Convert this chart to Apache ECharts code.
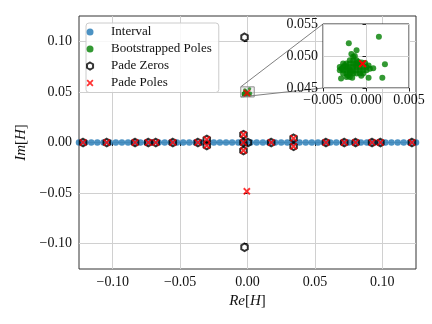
<!DOCTYPE html>
<html>
<head>
<meta charset="utf-8">
<script src="https://cdn.jsdelivr.net/npm/echarts@6/dist/echarts.min.js"></script>
<style>
  html, body { margin: 0; padding: 0; background: #fff; }
  #chart { width: 432px; height: 324px; }
</style>
</head>
<body>
<div id="chart"></div>
<script>
// tick labels
const xTicks = [-0.1, -0.05, 0, 0.05, 0.1]
const yTicks = [-0.1, -0.05, 0, 0.05, 0.1]
const insetXTicks = [-0.005, 0, 0.005]
const insetYTicks = [0.045, 0.05, 0.055]

// sampled interval on the real axis
const intervalRe = [-0.125, -0.1205, -0.1159, -0.1114, -0.1068, -0.1023, -0.0977, -0.0932, -0.0886, -0.0841,
  -0.0795, -0.075, -0.0705, -0.0659, -0.0614, -0.0568, -0.0523, -0.0477, -0.0432, -0.0386,
  -0.0341, -0.0295, -0.025, -0.0205, -0.0159, -0.0114, -0.0068, -0.0023,
  0.0023, 0.0068, 0.0114, 0.0159, 0.0205, 0.025, 0.0295, 0.0341, 0.0386, 0.0432,
  0.0477, 0.0523, 0.0568, 0.0614, 0.0659, 0.0705, 0.075, 0.0795, 0.0841, 0.0886,
  0.0932, 0.0977, 0.1023, 0.1068, 0.1114, 0.1159, 0.1205, 0.125]
const intervalIm = intervalRe.map(() => 0)

// pade zeros
const zeroRe = [-0.122, -0.1044, -0.0834, -0.0736, -0.068, -0.0554, -0.0368, -0.0302, -0.0302,
  -0.003, -0.003, -0.003, 0.0003, 0.0176, 0.0342, 0.0342, 0.0582, 0.0718, 0.0802, 0.0924,
  0.0986, 0.122, -0.0022, -0.0022]
const zeroIm = [0, 0, 0, 0, 0, 0, 0, 0.003, -0.003,
  0.0078, 0, -0.008, 0, 0, 0.0042, -0.0038, 0, 0, 0, 0,
  0, 0, 0.104, -0.1035]

// pade poles
const poleRe = [-0.122, -0.1044, -0.0834, -0.0736, -0.068, -0.0554, -0.0368, -0.0302, -0.0302,
  -0.003, -0.003, -0.003, 0.0176, 0.0342, 0.0342, 0.0582, 0.0718, 0.0802, 0.0924, 0.0986,
  0.122, -0.0005, -0.0004]
const poleIm = [0, 0, 0, 0, 0, 0, 0, 0.003, -0.003,
  0.0078, 0, -0.008, 0, 0.0042, -0.0038, 0, 0, 0, 0, 0,
  0, -0.0482, 0.0488]

// bootstrapped poles (cluster near 0.048i)
const bootRe = [0.0015, -0.002, -0.0011, 0.0022, 0.0019, -0.0029, 0.0003,
  -0.00305, -0.00305, -0.00266, -0.00266, -0.00266, -0.00266,
  -0.00227, -0.00227, -0.00227, -0.00227, -0.00227,
  -0.00188, -0.00188, -0.00188, -0.00188, -0.00188, -0.00188,
  -0.00149, -0.00149, -0.00149, -0.00149, -0.00149, -0.00149,
  -0.0011, -0.0011, -0.0011, -0.0011, -0.0011,
  -0.00072, -0.00072, -0.00072, -0.00072,
  -0.00033, -0.00033, -0.00033, 0.00006, 0.00006, 0.00045, 0.00084,
  -0.0017, -0.0013, -0.00245, -0.00205, -0.00165, -0.00125, -0.0009, -0.0005, -0.0001, 0.0003,
  -0.00285, -0.0021, -0.0016, -0.00055]
const bootIm = [0.053, 0.052, 0.0509, 0.0487, 0.0466, 0.0465, 0.0466,
  0.0483, 0.04778, 0.04883, 0.0483, 0.04778, 0.04726,
  0.04883, 0.0483, 0.04778, 0.04726, 0.04673,
  0.04935, 0.04883, 0.0483, 0.04778, 0.04726, 0.04673,
  0.04987, 0.04935, 0.04883, 0.0483, 0.04778, 0.04726,
  0.04935, 0.04883, 0.0483, 0.04778, 0.04726,
  0.04883, 0.0483, 0.04778, 0.04726,
  0.0483, 0.04778, 0.04726, 0.0483, 0.04778, 0.048, 0.0481,
  0.0503, 0.05, 0.04855, 0.04805, 0.0475, 0.0486, 0.0491, 0.049, 0.0489, 0.0485,
  0.048, 0.0469, 0.0466, 0.0469]

const pairs = (re, im) => re.map((x, i) => [x, im[i]])
const fmt = d => v => v.toFixed(d).replace('-', '\u2212')

const hexagon = 'path://M0.5,0 L0.933,0.25 L0.933,0.75 L0.5,1 L0.067,0.75 L0.067,0.25 Z'
const cross = 'path://M0,0.18 L0.18,0 L0.5,0.32 L0.82,0 L1,0.18 L0.68,0.5 L1,0.82 L0.82,1 L0.5,0.68 L0.18,1 L0,0.82 L0.32,0.5 Z'

const font = 'Liberation Serif'
const textColor = '#111'
const gridColor = '#d0d0d0'

// inset window
const insetXRange = [-0.005, 0.005]
const insetYRange = [0.045, 0.055]
const inInset = p => p[0] >= insetXRange[0] && p[0] <= insetXRange[1] && p[1] >= insetYRange[0] && p[1] <= insetYRange[1]

let myChart = echarts.init(document.getElementById('chart'))

let option = {
  animation: false,
  backgroundColor: '#fff',
  textStyle: { fontFamily: font },
  grid: [
    { left: 79, right: 16, top: 16, bottom: 55, show: true, borderColor: '#333', borderWidth: 1, z: 0 },
    { left: 323, top: 24, width: 86, height: 64, show: true, backgroundColor: '#fff',
      borderColor: '#222', borderWidth: 1, z: 4 }
  ],
  legend: {
    data: ['Interval', 'Bootstrapped Poles', 'Pade Zeros', 'Pade Poles'],
    orient: 'vertical',
    left: 86, top: 23,
    padding: [2.5, 7, 3, 0],
    itemWidth: 32, itemHeight: 7, itemGap: 4,
    backgroundColor: 'rgba(255,255,255,0.85)',
    borderColor: '#ccc', borderWidth: 1, borderRadius: 3,
    textStyle: { fontFamily: font, fontSize: 13, color: textColor },
    z: 10
  },
  xAxis: [
    {
      gridIndex: 0, type: 'value', min: -0.125, max: 0.125,
      name: '{i|Re}[{i|H}]', nameLocation: 'middle', nameGap: 22,
      nameTextStyle: { fontFamily: font, fontSize: 15, color: textColor,
        rich: { i: { fontFamily: font, fontSize: 15, fontStyle: 'italic', color: textColor } } },
      axisLine: { show: false },
      axisTick: { show: true, customValues: xTicks, length: 3.5, lineStyle: { color: '#222' } },
      axisLabel: { customValues: xTicks, formatter: fmt(2), fontFamily: font, fontSize: 14, color: textColor, margin: 6 },
      splitLine: { show: true, lineStyle: { color: gridColor, width: 1 } }
    },
    {
      gridIndex: 1, type: 'value', min: insetXRange[0], max: insetXRange[1], z: 5,
      axisLine: { show: false },
      axisTick: { show: true, customValues: insetXTicks, length: 3.5, lineStyle: { color: '#222' } },
      axisLabel: { customValues: insetXTicks, formatter: fmt(3), fontFamily: font, fontSize: 14, color: textColor, margin: 5 },
      splitLine: { show: true, lineStyle: { color: gridColor, width: 1 } }
    }
  ],
  yAxis: [
    {
      gridIndex: 0, type: 'value', min: -0.125, max: 0.125,
      name: '{i|Im}[{i|H}]', nameLocation: 'middle', nameGap: 41,
      nameTextStyle: { fontFamily: font, fontSize: 15, color: textColor,
        rich: { i: { fontFamily: font, fontSize: 15, fontStyle: 'italic', color: textColor } } },
      axisLine: { show: false },
      axisTick: { show: true, customValues: yTicks, length: 3.5, lineStyle: { color: '#222' } },
      axisLabel: { customValues: yTicks, formatter: fmt(2), fontFamily: font, fontSize: 14, color: textColor, margin: 7 },
      splitLine: { show: true, lineStyle: { color: gridColor, width: 1 } }
    },
    {
      gridIndex: 1, type: 'value', min: insetYRange[0], max: insetYRange[1], z: 5,
      axisLine: { show: false },
      axisTick: { show: true, customValues: insetYTicks, length: 3.5, lineStyle: { color: '#222' } },
      axisLabel: { customValues: insetYTicks, formatter: fmt(3), fontFamily: font, fontSize: 14, color: textColor, margin: 5 },
      splitLine: { show: true, lineStyle: { color: gridColor, width: 1 } }
    }
  ],
  series: [
    {
      name: 'Interval', type: 'scatter', xAxisIndex: 0, yAxisIndex: 0,
      symbol: 'circle', symbolSize: 6.5, itemStyle: { color: '#1f77b4' },
      data: pairs(intervalRe, intervalIm), z: 2
    },
    {
      name: 'Bootstrapped Poles', type: 'scatter', xAxisIndex: 0, yAxisIndex: 0,
      symbol: 'circle', symbolSize: 3.5, itemStyle: { color: '#008000' },
      data: pairs(bootRe, bootIm), z: 2
    },
    {
      name: 'Pade Zeros', type: 'scatter', xAxisIndex: 0, yAxisIndex: 0,
      symbol: hexagon, symbolKeepAspect: true, symbolSize: 7.5,
      itemStyle: { color: 'rgba(0,0,0,0)', borderColor: '#000', borderWidth: 2 },
      data: pairs(zeroRe, zeroIm), z: 2
    },
    {
      name: 'Pade Poles', type: 'scatter', xAxisIndex: 0, yAxisIndex: 0,
      symbol: cross, symbolSize: 7.5, itemStyle: { color: '#ff0000' },
      data: pairs(poleRe, poleIm), z: 3
    },
    {
      name: 'Bootstrapped Poles', type: 'scatter', xAxisIndex: 1, yAxisIndex: 1,
      symbol: 'circle', symbolSize: 6, itemStyle: { color: '#008000' },
      data: pairs(bootRe, bootIm).filter(inInset), z: 8
    },
    {
      name: 'Pade Poles', type: 'scatter', xAxisIndex: 1, yAxisIndex: 1,
      symbol: cross, symbolSize: 8, itemStyle: { color: '#ff0000', opacity: 1 },
      data: pairs(poleRe, poleIm).filter(inInset), z: 9
    }
  ]
}

myChart.setOption(option)

// zoom indicator box and connectors, from the inset axis ranges
const tl = myChart.convertToPixel({ gridIndex: 0 }, [insetXRange[0], insetYRange[1]])
const br = myChart.convertToPixel({ gridIndex: 0 }, [insetXRange[1], insetYRange[0]])
const bl = myChart.convertToPixel({ gridIndex: 0 }, [insetXRange[0], insetYRange[0]])
const itl = myChart.convertToPixel({ gridIndex: 1 }, [insetXRange[0], insetYRange[1]])
const ibl = myChart.convertToPixel({ gridIndex: 1 }, [insetXRange[0], insetYRange[0]])
const lineStyle = { stroke: '#808080', lineWidth: 1 }
myChart.setOption({
  graphic: [
    { type: 'rect', z: 3, shape: { x: tl[0], y: tl[1], width: br[0] - tl[0], height: br[1] - tl[1] },
      style: { fill: 'rgba(160,160,160,0.15)', stroke: '#909090', lineWidth: 1 } },
    { type: 'line', z: 3, shape: { x1: tl[0], y1: tl[1], x2: itl[0], y2: itl[1] }, style: lineStyle },
    { type: 'line', z: 3, shape: { x1: bl[0], y1: bl[1], x2: ibl[0], y2: ibl[1] }, style: lineStyle }
  ]
})
</script>
</body>
</html>
